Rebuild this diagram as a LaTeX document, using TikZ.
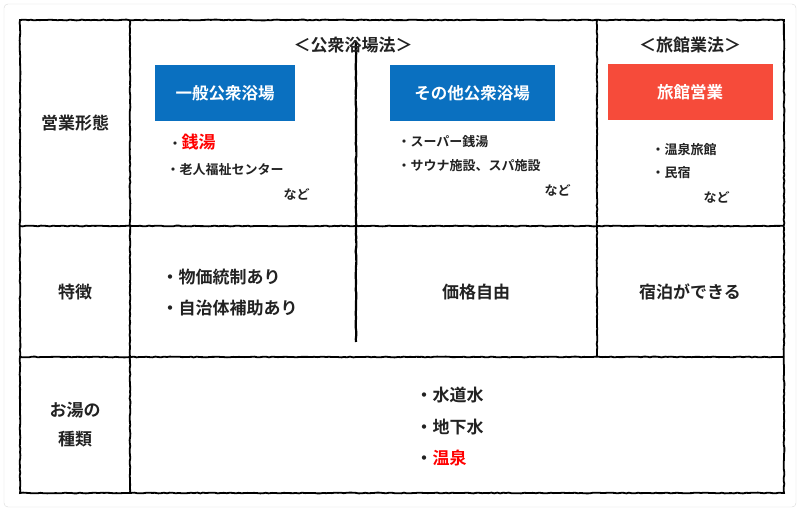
\documentclass[tikz,border=0pt]{standalone}
\usepackage{fontspec}
\setmainfont{Noto Sans CJK JP}[BoldFont={* Bold}]
\usetikzlibrary{decorations.pathmorphing}
\definecolor{bl}{HTML}{0A70C0}
\definecolor{rd}{HTML}{F64B3A}
\definecolor{tx}{HTML}{222222}
\begin{document}
\begin{tikzpicture}[x=1pt,y=-1pt,
  grid/.style={line width=1.8pt,black,decorate,decoration={random steps,segment length=3pt,amplitude=0.4pt}},
  hd/.style={font=\bfseries\fontsize{17}{19}\selectfont,text=tx},
  lb/.style={font=\bfseries\fontsize{17}{19}\selectfont,text=tx},
  sm/.style={font=\bfseries\fontsize{13}{15}\selectfont,text=tx,anchor=west},
  md/.style={font=\bfseries\fontsize{17}{19}\selectfont,text=tx,anchor=west},
  bx/.style={minimum width=#1,minimum height=55pt,text=white,font=\bfseries\fontsize{16.5}{18}\selectfont,inner sep=0}]
\useasboundingbox (0,0) rectangle (800,511);
\draw[gray!30,rounded corners=4pt] (4,4) rectangle (796,507);
\draw[grid] (20,20) rectangle (784,493);
\draw[grid] (130,20) -- (130,493);
\draw[grid] (597,20) -- (597,357);
\draw[grid] (20,226) -- (784,226);
\draw[grid] (20,357) -- (784,357);
\draw[grid,line width=2.2pt] (356,42) -- (356,342);
% headers
\node[hd] (h1) at (353,45) {＜公衆浴場法＞};
\node[hd] (h2) at (690,45) {＜旅館業法＞};
\node[bx=140pt,fill=bl] (b1) at (225,93) {一般公衆浴場};
\node[bx=165pt,fill=bl] (b2) at (472,93) {その他公衆浴場};
\node[bx=165pt,fill=rd] (b3) at (690,92) {旅館営業};
% col 1
\node[sm] (a1) at (165,142) {・\textcolor{red}{\fontsize{17}{19}\selectfont 銭湯}};
\node[sm] (a2) at (163,170) {・老人福祉センター};
\node[sm] (a3) at (280,194) {など};
\node[sm] (c1) at (394,142) {・スーパー銭湯};
\node[sm] (c2) at (394,166) {・サウナ施設、スパ施設};
\node[sm] (c3) at (541,190) {など};
\node[sm] (d1) at (648,150) {・温泉旅館};
\node[sm] (d2) at (648,173) {・民宿};
\node[sm] (d3) at (700,197) {など};
% left labels
\node[lb] (l1) at (75,123) {営業形態};
\node[lb] (l2) at (75,292) {特徴};
\node[lb,align=center] (l3) at (75,425) {お湯の\\[10pt]種類};
% row 2
\node[md] (f1) at (158,277) {・物価統制あり};
\node[md] (f2) at (158,308) {・自治体補助あり};
\node[lb] (f3) at (476,292) {価格自由};
\node[lb] (f4) at (690,292) {宿泊ができる};
% row 3
\node[md] (w1) at (412,395) {・水道水};
\node[md] (w2) at (412,427) {・地下水};
\node[md] (w3) at (412,458) {・\textcolor{red}{温泉}};
\end{tikzpicture}
\end{document}
